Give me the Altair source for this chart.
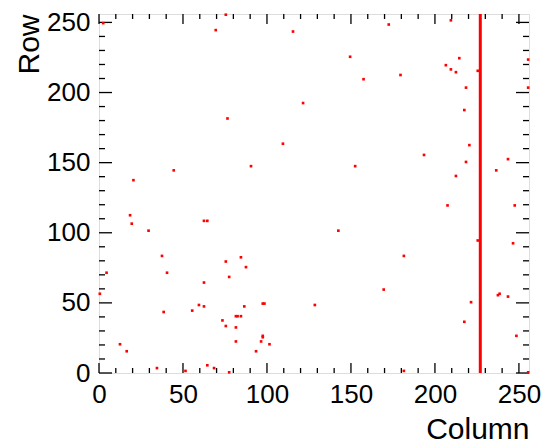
import altair as alt
import pandas as pd

# Hot pixel positions (column, row)
cols = [2, 75, 69, 115, 121, 76, 109, 90, 44, 20,
        172, 209, 149, 214, 206, 209, 212, 225, 255, 157, 179, 218, 255, 217, 220, 193, 218, 243, 152, 236, 212,
        18, 19, 29, 62, 64, 37, 40, 4, 0, 75, 84, 87, 77, 62, 59, 62, 86, 55, 38, 97, 98, 128, 81, 82, 84, 73, 75, 81, 97, 97,
        96, 81, 101, 93, 12, 16, 34, 51, 64, 68, 77,
        142, 181, 169, 207, 247, 225, 246, 221, 217, 237, 238, 243, 248, 181, 255]
rows = [249, 255, 244, 243, 192, 181, 163, 147, 144, 137,
        248, 251, 225, 224, 219, 216, 214, 215, 223, 209, 212, 203, 203, 187, 162, 155, 150, 152, 147, 144, 140,
        112, 106, 101, 108, 108, 83, 71, 71, 56, 79, 82, 75, 68, 64, 48, 47, 47, 44, 43, 49, 49, 48, 40, 40, 40, 37, 33, 32, 26, 25,
        22, 22, 20, 15, 20, 15, 3, 1, 5, 3, 0,
        101, 83, 59, 119, 119, 94, 92, 50, 36, 55, 56, 54, 26, 1, 0]

# Dead/hot column
line_cols = [227]

# Axis ticks
major_ticks = [0, 50, 100, 150, 200, 250]
minor_ticks = [10, 20, 30, 40, 60, 70, 80, 90, 110, 120, 130, 140, 160, 170, 180, 190,
               210, 220, 230, 240]

W, H = 430, 359
FONT = "Liberation Sans"

df = pd.DataFrame({"col": cols, "row": rows})
lines = pd.DataFrame({"col": line_cols})
maj = pd.DataFrame({"v": major_ticks})
mnr = pd.DataFrame({"v": minor_ticks})

xscale = alt.Scale(domain=[0, 256], nice=False, zero=False)
yscale = alt.Scale(domain=[0, 256], nice=False, zero=False)

xaxis = alt.Axis(values=major_ticks, title="Column", labelFont=FONT, labelFontSize=26,
                 labelColor="black", labelPadding=8, ticks=False, tickSize=0, domain=False,
                 grid=False, titleFont=FONT, titleFontSize=30, titleFontWeight="normal",
                 titleColor="black", titleX=W, titleY=65, titleAlign="right",
                 titleBaseline="alphabetic", labelFlush=False)
yaxis = alt.Axis(values=major_ticks, title="Row", labelFont=FONT, labelFontSize=26,
                 labelColor="black", labelPadding=9, ticks=False, tickSize=0, domain=False,
                 grid=False, titleFont=FONT, titleFontSize=30, titleFontWeight="normal",
                 titleColor="black", titleX=-61, titleY=0, titleAngle=270, titleAlign="right",
                 titleBaseline="alphabetic", labelFlush=False)

points = alt.Chart(df).transform_calculate(
    cx="datum.col + 0.5", cy="datum.row + 0.5"
).mark_square(size=7, color="#ff0000", opacity=1).encode(
    x=alt.X("cx:Q", scale=xscale, axis=xaxis),
    y=alt.Y("cy:Q", scale=yscale, axis=yaxis),
)

vline = alt.Chart(lines).mark_rule(color="#ff0000", strokeWidth=3).encode(
    x=alt.X("col:Q", scale=xscale),
    y=alt.value(0), y2=alt.value(H),
)

def xticks(data, length, top):
    if top:
        return alt.Chart(data).mark_rule(color="black", strokeWidth=1.3).encode(
            x=alt.X("v:Q", scale=xscale), y=alt.value(0), y2=alt.value(length))
    return alt.Chart(data).mark_rule(color="black", strokeWidth=1.3).encode(
        x=alt.X("v:Q", scale=xscale), y=alt.value(H - length), y2=alt.value(H))

def yticks(data, length, right):
    if right:
        return alt.Chart(data).mark_rule(color="black", strokeWidth=1.3).encode(
            y=alt.Y("v:Q", scale=yscale), x=alt.value(W - length), x2=alt.value(W))
    return alt.Chart(data).mark_rule(color="black", strokeWidth=1.3).encode(
        y=alt.Y("v:Q", scale=yscale), x=alt.value(0), x2=alt.value(length))

tick_layers = [
    xticks(maj, 10, False), xticks(mnr, 5, False), xticks(maj, 10, True), xticks(mnr, 5, True),
    yticks(maj, 13, False), yticks(mnr, 6, False), yticks(maj, 13, True), yticks(mnr, 6, True),
]

chart = alt.layer(*tick_layers, points, vline).properties(
    width=W, height=H,
    autosize=alt.AutoSizeParams(type="none"),
    padding={"left": 99, "top": 14, "right": 18, "bottom": 70},
).configure_view(stroke="black", strokeWidth=2).configure(background="white")

chart.save("out.html", embed_options={"renderer": "svg", "actions": False})
